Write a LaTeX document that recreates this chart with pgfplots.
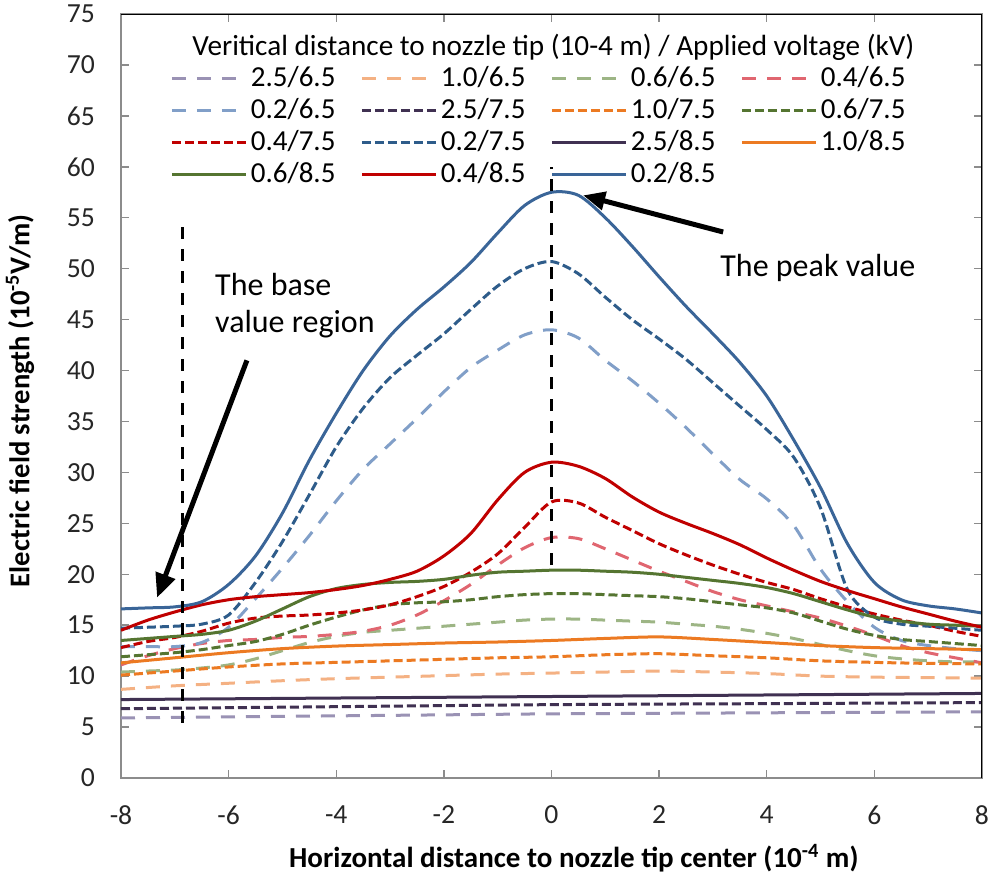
\documentclass[border=0pt]{standalone}
\usepackage{fontspec}
\setmainfont{Carlito}
\usepackage{pgfplots}
\pgfplotsset{compat=1.18}
\usetikzlibrary{arrows.meta}
\definecolor{purD}{HTML}{403152}
\definecolor{purL}{HTML}{9A92B4}
\definecolor{oraD}{HTML}{EC7A22}
\definecolor{oraL}{HTML}{F4B183}
\definecolor{grnD}{HTML}{557531}
\definecolor{grnL}{HTML}{9DB585}
\definecolor{redD}{HTML}{C00000}
\definecolor{redL}{HTML}{E06670}
\definecolor{bluD}{HTML}{3A6598}
\definecolor{bluM}{HTML}{2E5C8A}
\definecolor{bluL}{HTML}{819FC8}
\pgfplotsset{
 d65/.style={line width=1.5pt, dash pattern=on 7pt off 5.5pt, smooth, tension=0.5},
 d75/.style={line width=1.5pt, dash pattern=on 4.5pt off 2pt, smooth, tension=0.5},
 d85/.style={line width=1.5pt, smooth, tension=0.5},
}
\newcommand{\legent}[1]{\addlegendentry{\makebox[53pt][l]{#1}}}
\begin{document}
\begin{tikzpicture}
\begin{axis}[
  scale only axis, width=430.5pt, height=382pt,
  xmin=-8, xmax=8, ymin=0, ymax=75,
  xtick={-8,-6,...,8}, ytick={0,5,...,75},
  tick align=inside, major tick length=4pt,
  axis line style={color=black!45, line width=0.8pt},
  tick style={color=black!45, line width=0.7pt},
  ticklabel style={font=\fontsize{13.8}{16}\selectfont, color=black!85},
  /pgf/number format/assume math mode=true,
  xticklabel style={yshift=-10.5pt},
  yticklabel style={xshift=-9.5pt},
  xlabel={Horizontal distance to nozzle tip center (10\textsuperscript{-4} m)},
  ylabel={Electric field strength (10\textsuperscript{-5}V/m)},
  xlabel style={at={([yshift=-40pt]axis description cs:0.526,0)}, anchor=center, font=\bfseries\fontsize{14.5}{16}\selectfont},
  ylabel style={at={([xshift=-50.5pt]axis description cs:0,0.494)}, anchor=center, font=\bfseries\fontsize{14.3}{16}\selectfont},
  legend columns=4,
  legend style={draw=none, fill=none, inner sep=0pt, at={(axis description cs:0.0569,0.937)}, anchor=north west,
    font=\fontsize{14.5}{16}\selectfont,
    nodes={inner xsep=1.75pt, inner ysep=1pt, text height=11pt, text depth=3pt},
    row sep=0pt, column sep=0pt},
  legend cell align=left,
  legend image code/.code={\draw[#1] (0pt,0pt) -- (37pt,0pt);},
]
% 6.5 kV
\addplot[d65, purL] coordinates {(-8,5.9) (-6,6.0) (-4,6.1) (-2,6.2) (0,6.3) (2,6.35) (4,6.4) (6,6.45) (8,6.5)};
\legent{2.5/6.5}
\addplot[d65, oraL] coordinates {(-8,8.7) (-7,9.05) (-6,9.3) (-5,9.55) (-4,9.75) (-3,9.9) (-2,10.05) (-1,10.2) (0,10.3) (1,10.4) (2,10.5) (3,10.4) (4,10.25) (5,10.0) (6,9.9) (7,9.85) (8,9.8)};
\legent{1.0/6.5}
\addplot[d65, grnL] coordinates {(-8,10.4) (-7.5,10.5) (-7,10.6) (-6.5,10.8) (-6,11.1) (-5.5,11.7) (-5,12.5) (-4.5,13.3) (-4,13.9) (-3.5,14.3) (-3,14.5) (-2.5,14.7) (-2,14.9) (-1.5,15.1) (-1,15.3) (-0.5,15.5) (0,15.6) (0.5,15.6) (1,15.5) (1.5,15.4) (2,15.3) (2.5,15.1) (3,14.9) (3.5,14.6) (4,14.2) (4.5,13.7) (5,13.1) (5.5,12.5) (6,12.0) (6.5,11.7) (7,11.5) (7.5,11.4) (8,11.4)};
\legent{0.6/6.5}
\addplot[d65, redL] coordinates {(-8,11.1) (-7.5,12.0) (-7,12.7) (-6.5,13.2) (-6,13.5) (-5.5,13.6) (-5,13.8) (-4.5,13.9) (-4,14.1) (-3.5,14.4) (-3,15.0) (-2.5,16.0) (-2,17.4) (-1.5,19.0) (-1,20.9) (-0.5,22.6) (0,23.6) (0.5,23.5) (1,22.5) (1.5,21.4) (2,20.3) (2.5,19.3) (3,18.3) (3.5,17.5) (4,16.9) (4.5,16.3) (5,15.7) (5.5,14.9) (6,14.0) (6.5,13.0) (7,12.3) (7.5,11.8) (8,11.3)};
\legent{0.4/6.5}
\addplot[d65, bluL] coordinates {(-8,12.9) (-7.5,12.9) (-7,12.9) (-6.5,13.3) (-6,14.8) (-5.5,17.6) (-5,20.6) (-4.5,23.8) (-4,27.2) (-3.5,30.3) (-3,32.8) (-2.5,35.3) (-2,37.9) (-1.5,40.3) (-1,42.0) (-0.5,43.5) (0,44.0) (0.5,43.2) (1,41.0) (1.5,39.0) (2,36.8) (2.5,34.4) (3,31.8) (3.5,29.3) (4,27.4) (4.5,24.8) (5,20.5) (5.5,17.3) (6,14.8) (6.5,13.5) (7,13.0) (7.5,12.7) (8,12.5)};
\legent{0.2/6.5}
% 7.5 kV
\addplot[d75, purD] coordinates {(-8,6.8) (-4,7.0) (0,7.2) (4,7.3) (8,7.4)};
\legent{2.5/7.5}
\addplot[d75, oraD] coordinates {(-8,10.1) (-7,10.5) (-6,10.9) (-5,11.2) (-4,11.35) (-3,11.5) (-2,11.65) (-1,11.8) (0,11.9) (1,12.1) (2,12.2) (3,12.0) (4,11.8) (5,11.5) (6,11.35) (7,11.25) (8,11.2)};
\legent{1.0/7.5}
\addplot[d75, grnD] coordinates {(-8,11.9) (-7.5,12.1) (-7,12.3) (-6.5,12.6) (-6,13.0) (-5.5,13.4) (-5,14.1) (-4.5,15.0) (-4,15.8) (-3.5,16.5) (-3,17.0) (-2.5,17.2) (-2,17.3) (-1.5,17.5) (-1,17.8) (-0.5,18.0) (0,18.1) (0.5,18.1) (1,18.0) (1.5,17.9) (2,17.8) (2.5,17.6) (3,17.3) (3.5,17.0) (4,16.7) (4.5,16.2) (5,15.4) (5.5,14.6) (6,14.0) (6.5,13.6) (7,13.4) (7.5,13.2) (8,13.0)};
\legent{0.6/7.5}
\addplot[d75, redD] coordinates {(-8,12.8) (-7.5,13.4) (-7,13.8) (-6.5,14.4) (-6,15.2) (-5.5,15.7) (-5,15.9) (-4.5,16.0) (-4,16.2) (-3.5,16.5) (-3,17.0) (-2.5,17.8) (-2,18.8) (-1.5,20.2) (-1,22.0) (-0.5,24.6) (0,27.1) (0.5,27.0) (1,25.6) (1.5,24.3) (2,23.0) (2.5,21.9) (3,20.9) (3.5,20.0) (4,19.2) (4.5,18.5) (5,17.6) (5.5,16.8) (6,16.1) (6.5,15.5) (7,15.0) (7.5,14.4) (8,13.9)};
\legent{0.4/7.5}
\addplot[d75, bluM] coordinates {(-8,14.7) (-7.5,14.8) (-7,14.9) (-6.5,15.1) (-6,16.0) (-5.5,19.2) (-5,23.2) (-4.5,27.8) (-4,32.5) (-3.5,36.3) (-3,39.3) (-2.5,41.5) (-2,43.6) (-1.5,46.0) (-1,48.3) (-0.5,50.0) (0,50.7) (0.5,49.5) (1,47.2) (1.5,45.0) (2,43.1) (2.5,41.1) (3,38.8) (3.5,36.5) (4,34.2) (4.5,31.5) (5,26.5) (5.5,18.5) (6,15.8) (6.5,15.1) (7,14.9) (7.5,14.7) (8,14.5)};
\legent{0.2/7.5}
% 8.5 kV
\addplot[d85, purD] coordinates {(-8,7.7) (-4,7.85) (0,8.0) (4,8.15) (8,8.3)};
\legent{2.5/8.5}
\addplot[d85, oraD] coordinates {(-8,11.3) (-7,11.8) (-6,12.3) (-5,12.7) (-4,12.95) (-3,13.1) (-2,13.25) (-1,13.35) (0,13.5) (1,13.7) (2,13.85) (3,13.6) (4,13.3) (5,13.0) (6,12.8) (7,12.7) (8,12.6)};
\legent{1.0/8.5}
\addplot[d85, grnD] coordinates {(-8,13.5) (-7.5,13.7) (-7,13.9) (-6.5,14.1) (-6,14.5) (-5.5,15.4) (-5,16.6) (-4.5,17.8) (-4,18.6) (-3.5,19.0) (-3,19.2) (-2.5,19.3) (-2,19.5) (-1.5,19.9) (-1,20.2) (-0.5,20.3) (0,20.4) (0.5,20.4) (1,20.3) (1.5,20.2) (2,20.0) (2.5,19.7) (3,19.4) (3.5,19.1) (4,18.7) (4.5,18.1) (5,17.3) (5.5,16.5) (6,15.8) (6.5,15.4) (7,15.1) (7.5,15.0) (8,14.9)};
\legent{0.6/8.5}
\addplot[d85, redD] coordinates {(-8,14.5) (-7.5,15.5) (-7,16.3) (-6.5,17.0) (-6,17.5) (-5.5,17.8) (-5,18.0) (-4.5,18.2) (-4,18.5) (-3.5,18.9) (-3,19.5) (-2.5,20.3) (-2,21.8) (-1.5,24.0) (-1,27.3) (-0.5,30.0) (0,31.0) (0.5,30.6) (1,29.4) (1.5,27.6) (2,26.1) (2.5,25.0) (3,24.0) (3.5,22.9) (4,21.6) (4.5,20.4) (5,19.3) (5.5,18.4) (6,17.6) (6.5,16.8) (7,16.1) (7.5,15.4) (8,14.8)};
\legent{0.4/8.5}
\addplot[d85, bluD] coordinates {(-8,16.6) (-7.5,16.7) (-7,16.8) (-6.5,17.3) (-6,19.0) (-5.5,21.8) (-5,26.0) (-4.5,31.2) (-4,35.8) (-3.5,40.0) (-3,43.4) (-2.5,46.0) (-2,48.2) (-1.5,50.6) (-1,53.5) (-0.5,56.2) (0,57.5) (0.5,57.2) (1,55.0) (1.5,52.2) (2,49.2) (2.5,46.3) (3,43.6) (3.5,40.8) (4,37.5) (4.5,33.2) (5,28.5) (5.5,23.0) (6,19.2) (6.5,17.5) (7,16.9) (7.5,16.6) (8,16.2)};
\legent{0.2/8.5}
% annotation lines
\addplot[black, line width=1.5pt, dash pattern=on 6pt off 5pt, forget plot] coordinates {(-6.85,5.4) (-6.85,54.6)};
\addplot[black, line width=1.5pt, dash pattern=on 6pt off 5pt, forget plot] coordinates {(0,20.9) (0,60.0)};
\draw[-{Triangle[length=12pt,width=10pt]}, line width=2.5pt] (axis cs:-5.66,41.0) -- (axis cs:-7.33,17.7);
\draw[-{Triangle[length=11pt,width=9pt]}, line width=2.5pt] (axis cs:3.19,53.6) -- (axis cs:0.587,57.2);
\node[anchor=base west, inner sep=0pt, font=\fontsize{16}{19}\selectfont] at (axis description cs:0.109,0.632) {The base};
\node[anchor=base west, inner sep=0pt, font=\fontsize{16}{19}\selectfont] at (axis description cs:0.109,0.5825) {value region};
\node[anchor=base west, inner sep=0pt, font=\fontsize{16}{19}\selectfont] at (axis description cs:0.6957,0.6558) {The peak value};
\node[anchor=base west, inner sep=0pt, font=\fontsize{14.6}{16}\selectfont] at (axis description cs:0.0825,0.946) {Veritical distance to nozzle tip (10-4 m) / Applied voltage (kV)};
\draw[black, line width=0.9pt] (rel axis cs:0,1) -- (rel axis cs:1,1) -- (rel axis cs:1,0);
\end{axis}
\pgfresetboundingbox
\useasboundingbox (-60.5pt,-53pt) rectangle (435.5pt,389pt);
\end{tikzpicture}
\end{document}
